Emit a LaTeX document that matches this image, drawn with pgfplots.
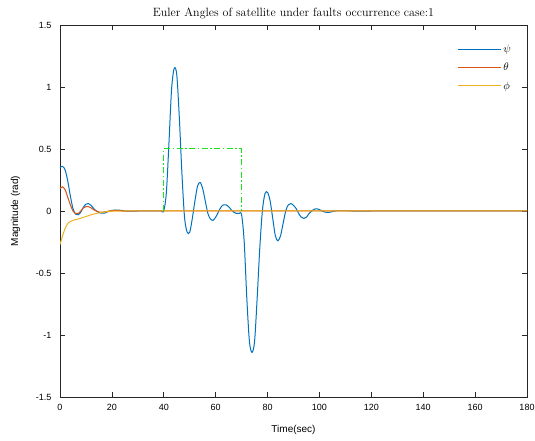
\documentclass[border=0pt]{standalone}
\usepackage{pgfplots}
\pgfplotsset{compat=1.18}
\usepackage{fontspec}
\newfontfamily\arial{Liberation Sans}
\definecolor{mblue}{rgb}{0,0.447,0.741}
\definecolor{mred}{rgb}{0.85,0.325,0.098}
\definecolor{myel}{rgb}{0.929,0.694,0.125}
\definecolor{faultgreen}{rgb}{0.1,0.9,0.1}
\definecolor{axgray}{rgb}{0.15,0.15,0.15}
\pgfplotsset{
  mylegline/.style={legend image code/.code={%
    \draw[mark repeat=2,mark phase=2,##1] plot coordinates {(0pt,0pt) (21pt,0pt) (43pt,0pt)};}},
}
\begin{document}
\begin{tikzpicture}
\begin{axis}[
  scale only axis,
  width=467pt, height=372pt,
  xmin=0, xmax=180, ymin=-1.5, ymax=1.5,
  xtick={0,20,...,180},
  ytick={-1.5,-1,-0.5,0,0.5,1,1.5},
  yticklabels={-1.5,-1,-0.5,0,0.5,1,1.5},
  tick align=inside,
  major tick length=5pt,
  axis line style={axgray, line width=0.6pt},
  tick style={axgray, line width=0.6pt},
  /pgf/number format/assume math mode=true,
  ticklabel style={font=\arial\fontsize{9}{10}\selectfont},
  yticklabel style={xshift=-5pt},
  xticklabel style={yshift=-4pt},
  xlabel={\arial\fontsize{10}{12}\selectfont Time(sec)},
  ylabel={\arial\fontsize{10}{12}\selectfont Magnitude (rad)},
  xlabel style={yshift=-7pt},
  ylabel style={yshift=9pt},
  title={\fontsize{12}{14}\selectfont Euler Angles of satellite under faults occurrence case:1},
  title style={yshift=-3pt},
  legend style={draw=none, at={(1,1)}, xshift=-11pt, yshift=-16pt, anchor=north east,
    font=\fontsize{11}{13}\selectfont, row sep=5pt},
  legend cell align=left,
]
\addplot[color=mblue, line width=1pt, smooth, tension=0.5, mylegline] coordinates {
(0,0.35) (1,0.36) (2,0.33) (3,0.24) (4,0.12) (5,0.02) (6,-0.025) (7,-0.03) (8,-0.01) (9,0.03)
(10,0.055) (11,0.06) (12,0.045) (13,0.02) (14,0.0) (15,-0.012) (16,-0.018) (17,-0.018) (18,-0.01)
(19,0.0) (20,0.005) (22,0.008) (24,0.004) (26,0.0) (28,-0.002) (30,0.0) (35,0.001) (39,0.0) (40,0.0)
(41,0.15) (42,0.55) (43,0.98) (44,1.15) (45,1.10) (46,0.75) (47,0.3) (48,-0.05) (49,-0.17) (50,-0.17)
(51,-0.06) (52,0.08) (53,0.2) (54,0.23) (55,0.18) (56,0.08) (57,-0.02) (58,-0.065) (59,-0.075)
(60,-0.05) (61,-0.01) (62,0.03) (63,0.05) (64,0.05) (65,0.035) (66,0.01) (67,-0.01) (68,-0.02)
(69,-0.02) (70,-0.03) (71,-0.25) (72,-0.7) (73,-1.05) (74,-1.14) (75,-1.05) (76,-0.7) (77,-0.3)
(78,0.0) (79,0.14) (80,0.15) (81,0.08) (82,-0.06) (83,-0.2) (84,-0.24) (85,-0.2) (86,-0.1) (87,0.0)
(88,0.05) (89,0.06) (90,0.045) (91,0.02) (92,-0.02) (93,-0.05) (94,-0.06) (95,-0.05) (96,-0.02)
(97,0.0) (98,0.015) (99,0.018) (100,0.012) (101,0.0) (102,-0.008) (103,-0.012) (104,-0.01)
(105,-0.005) (107,0.003) (110,0.003) (115,-0.002) (120,0) (150,0) (180,0)};
\addlegendentry{$\psi$}
\addplot[color=mred, line width=1pt, smooth, tension=0.5, mylegline] coordinates {
(0,0.18) (1,0.195) (2,0.17) (3,0.11) (4,0.05) (5,0.0) (6,-0.02) (7,-0.02) (8,0.0) (9,0.025)
(10,0.035) (11,0.035) (12,0.025) (13,0.01) (14,0.0) (15,-0.008) (16,-0.01) (18,-0.005) (20,0.003)
(22,0.004) (25,0.0) (30,0) (100,0) (180,0)};
\addlegendentry{$\theta$}
\addplot[color=myel, line width=1pt, smooth, tension=0.5, mylegline] coordinates {
(0,-0.27) (1,-0.2) (2,-0.14) (3,-0.1) (4,-0.085) (5,-0.075) (6,-0.07) (7,-0.065) (8,-0.058)
(10,-0.045) (12,-0.03) (14,-0.02) (16,-0.012) (18,-0.006) (20,-0.003) (25,0) (100,0) (180,0)};
\addlegendentry{$\phi$}
\addplot[color=faultgreen, line width=1pt, dash pattern=on 6pt off 2.5pt on 1.5pt off 2.5pt, forget plot] coordinates {
(40,0) (40,0.5) (70,0.5) (70,0)};
\end{axis}
\pgfresetboundingbox
\path ([xshift=-60pt,yshift=-44pt]current axis.south west) rectangle ([xshift=8pt,yshift=25pt]current axis.north east);
\end{tikzpicture}
\end{document}
